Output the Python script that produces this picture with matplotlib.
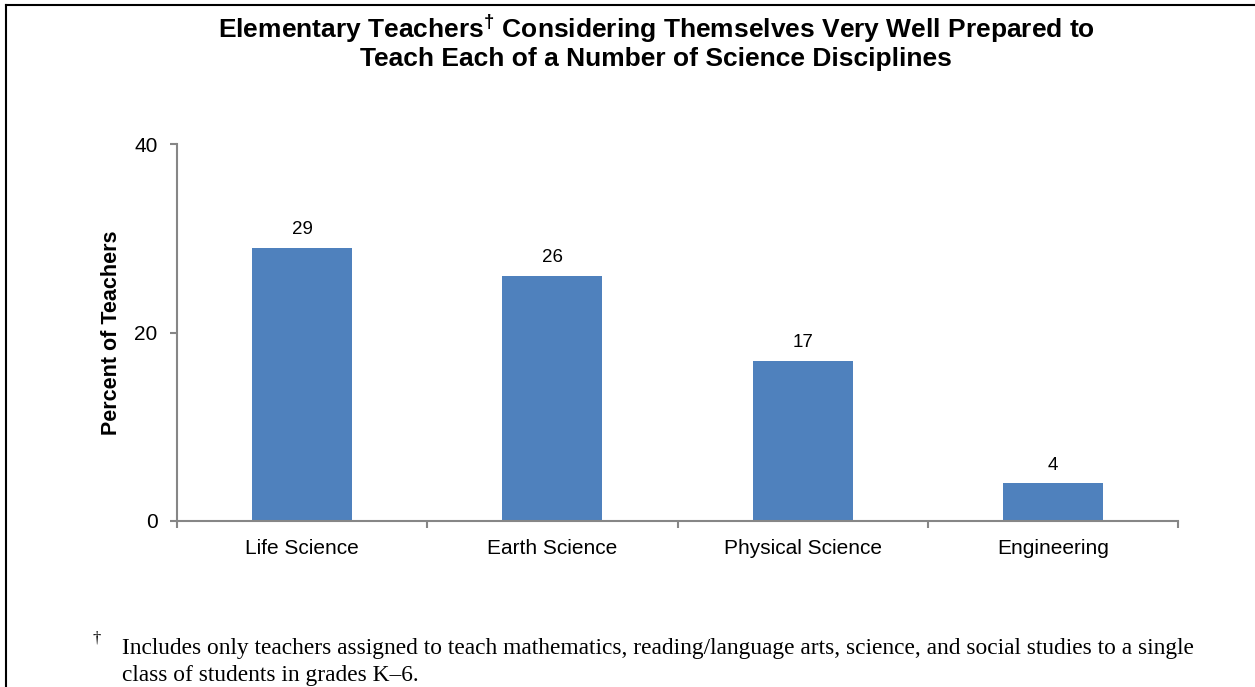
import matplotlib
matplotlib.use("Agg")
import matplotlib.pyplot as plt
from matplotlib.lines import Line2D

categories = ["Life Science", "Earth Science", "Physical Science", "Engineering"]
values = [29, 26, 17, 4]
yticks = [0, 20, 40]

W, H = 1255, 687
fig = plt.figure(figsize=(W / 100, H / 100), dpi=100)
plt.rcParams['font.family'] = ['Liberation Sans', 'DejaVu Sans']
plt.rcParams['mathtext.fontset'] = 'custom'
plt.rcParams['mathtext.rm'] = 'Liberation Sans'
plt.rcParams['mathtext.bf'] = 'Liberation Sans:bold'
plt.rcParams['mathtext.it'] = 'Liberation Sans:italic'

ax = fig.add_axes([177 / W, 1 - 521 / H, (1178 - 177) / W, (521 - 144) / H])
x = list(range(len(categories)))
ax.bar(x, values, width=0.4, color="#4F81BD", zorder=2)
for xi, v in zip(x, values):
    ax.annotate(str(v), (xi, v), xytext=(0, 7), textcoords="offset points",
                ha="center", va="bottom", fontsize=13.5)

ax.set_xlim(-0.5, len(categories) - 0.5)
ax.set_ylim(0, 40)
ax.set_yticks(yticks)
ax.set_yticklabels([str(t) for t in yticks], fontsize=15)
ax.set_xticks(x)
ax.set_xticklabels(categories, fontsize=15)
ax.tick_params(axis="x", length=0, pad=13)
ax.set_xticks([i - 0.5 for i in range(len(categories) + 1)], minor=True)
ax.tick_params(axis="x", which="minor", length=5, color="#868686", width=1.5)
ax.tick_params(axis="y", length=5, color="#868686", width=1.5, pad=9)
for s in ["top", "right"]:
    ax.spines[s].set_visible(False)
for s in ["left", "bottom"]:
    ax.spines[s].set_color("#868686")
    ax.spines[s].set_linewidth(1.5)
ax.set_ylabel("Percent of Teachers", fontsize=15.5, fontweight="bold", labelpad=9)

fig.text(656 / W, 1 - 42 / H,
         "Elementary $\\mathbf{Teachers}^{\\mathbf{\u2020}}$ Considering Themselves Very Well Prepared to\nTeach Each of a Number of Science Disciplines",
         ha="center", va="center", fontsize=19, fontweight="bold", linespacing=1.1)

fig.text(97 / W, 1 - 638 / H, "†", ha="center", va="center", fontsize=12,
         family=["Liberation Serif", "DejaVu Serif"])
fig.text(122 / W, 1 - 662 / H,
         "Includes only teachers assigned to teach mathematics, reading/language arts, science, and social studies to a single\nclass of students in grades K–6.",
         ha="left", va="center", fontsize=16.8, linespacing=1.32,
         family=["Liberation Serif", "DejaVu Serif"])

fig.add_artist(Line2D([5.5 / W, 5.5 / W], [0, 1 - 5 / H], color="black", lw=1.5, transform=fig.transFigure))
fig.add_artist(Line2D([5.5 / W, 1], [1 - 5 / H, 1 - 5 / H], color="black", lw=1.5, transform=fig.transFigure))

fig.savefig("out.png", dpi=100)
